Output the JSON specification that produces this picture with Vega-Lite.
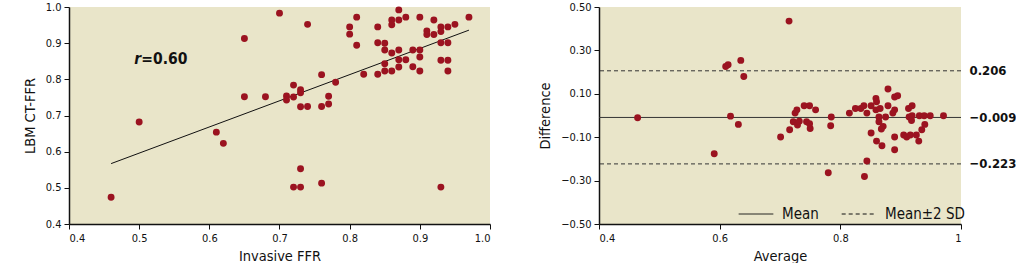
{
  "$schema": "https://vega.github.io/schema/vega-lite/v6.json",
  "padding": {"left": 22, "top": 1, "right": 0, "bottom": 0},
  "spacing": 46,
  "background": "white",
  "config": {
    "view": {"stroke": null, "fill": "#E9E5C9"},
    "font": "Liberation Sans Narrow, DejaVu Sans Condensed, Roboto Condensed, sans-serif",
    "axis": {
      "grid": false,
      "labelOverlap": false,
      "domainColor": "#111",
      "domainWidth": 1.5,
      "tickColor": "#111",
      "tickSize": 5,
      "labelColor": "#111",
      "labelFont": "Liberation Sans Narrow, DejaVu Sans Condensed, sans-serif",
      "labelFontSize": 11,
      "labelPadding": 3,
      "titleFont": "Liberation Sans Narrow, DejaVu Sans Condensed, sans-serif",
      "titleFontSize": 14.5,
      "titleFontWeight": "normal",
      "titleColor": "#111"
    }
  },
  "datasets": {
    "corr": [
      {"ffr": 0.46, "ct": 0.474}, {"ffr": 0.50, "ct": 0.682}, {"ffr": 0.61, "ct": 0.654}, {"ffr": 0.62, "ct": 0.623},
      {"ffr": 0.65, "ct": 0.913}, {"ffr": 0.65, "ct": 0.752}, {"ffr": 0.68, "ct": 0.752}, {"ffr": 0.70, "ct": 0.983},
      {"ffr": 0.71, "ct": 0.754}, {"ffr": 0.71, "ct": 0.743}, {"ffr": 0.72, "ct": 0.784}, {"ffr": 0.72, "ct": 0.751},
      {"ffr": 0.73, "ct": 0.771}, {"ffr": 0.73, "ct": 0.763}, {"ffr": 0.73, "ct": 0.724}, {"ffr": 0.74, "ct": 0.725},
      {"ffr": 0.74, "ct": 0.952}, {"ffr": 0.72, "ct": 0.502}, {"ffr": 0.73, "ct": 0.502}, {"ffr": 0.73, "ct": 0.553},
      {"ffr": 0.76, "ct": 0.513}, {"ffr": 0.76, "ct": 0.813}, {"ffr": 0.76, "ct": 0.725}, {"ffr": 0.77, "ct": 0.753},
      {"ffr": 0.77, "ct": 0.732}, {"ffr": 0.78, "ct": 0.792}, {"ffr": 0.80, "ct": 0.945}, {"ffr": 0.80, "ct": 0.925},
      {"ffr": 0.81, "ct": 0.972}, {"ffr": 0.81, "ct": 0.894}, {"ffr": 0.82, "ct": 0.814}, {"ffr": 0.84, "ct": 0.945},
      {"ffr": 0.84, "ct": 0.901}, {"ffr": 0.84, "ct": 0.814}, {"ffr": 0.85, "ct": 0.900}, {"ffr": 0.85, "ct": 0.881},
      {"ffr": 0.85, "ct": 0.843}, {"ffr": 0.85, "ct": 0.823}, {"ffr": 0.86, "ct": 0.964}, {"ffr": 0.86, "ct": 0.951},
      {"ffr": 0.86, "ct": 0.873}, {"ffr": 0.86, "ct": 0.823}, {"ffr": 0.87, "ct": 0.992}, {"ffr": 0.87, "ct": 0.964},
      {"ffr": 0.87, "ct": 0.881}, {"ffr": 0.87, "ct": 0.854}, {"ffr": 0.87, "ct": 0.834}, {"ffr": 0.88, "ct": 0.972},
      {"ffr": 0.88, "ct": 0.854}, {"ffr": 0.89, "ct": 0.881}, {"ffr": 0.89, "ct": 0.835}, {"ffr": 0.90, "ct": 0.972},
      {"ffr": 0.90, "ct": 0.881}, {"ffr": 0.90, "ct": 0.862}, {"ffr": 0.90, "ct": 0.823}, {"ffr": 0.91, "ct": 0.934},
      {"ffr": 0.91, "ct": 0.924}, {"ffr": 0.92, "ct": 0.964}, {"ffr": 0.92, "ct": 0.924}, {"ffr": 0.93, "ct": 0.945},
      {"ffr": 0.93, "ct": 0.932}, {"ffr": 0.93, "ct": 0.901}, {"ffr": 0.93, "ct": 0.853}, {"ffr": 0.93, "ct": 0.502},
      {"ffr": 0.94, "ct": 0.945}, {"ffr": 0.94, "ct": 0.901}, {"ffr": 0.94, "ct": 0.853}, {"ffr": 0.94, "ct": 0.823},
      {"ffr": 0.95, "ct": 0.952}, {"ffr": 0.97, "ct": 0.972}
    ],
    "fit": [{"ffr": 0.46, "ct": 0.567}, {"ffr": 0.97, "ct": 0.936}],
    "rlabel": [
      {"ffr": 0.493, "ct": 0.855, "t": "r", "part": "italic"},
      {"ffr": 0.503, "ct": 0.855, "t": "=0.60", "part": "normal"}
    ],
    "ba": [
      {"avg": 0.464, "diff": -0.010}, {"avg": 0.591, "diff": -0.176}, {"avg": 0.610, "diff": 0.226}, {"avg": 0.614, "diff": 0.234},
      {"avg": 0.618, "diff": -0.003}, {"avg": 0.635, "diff": 0.254}, {"avg": 0.631, "diff": -0.041}, {"avg": 0.640, "diff": 0.180},
      {"avg": 0.715, "diff": 0.435}, {"avg": 0.701, "diff": -0.099}, {"avg": 0.716, "diff": -0.066}, {"avg": 0.725, "diff": 0.011},
      {"avg": 0.728, "diff": 0.026}, {"avg": 0.722, "diff": -0.029}, {"avg": 0.729, "diff": -0.044}, {"avg": 0.732, "diff": -0.026},
      {"avg": 0.740, "diff": 0.045}, {"avg": 0.749, "diff": 0.045}, {"avg": 0.759, "diff": 0.026}, {"avg": 0.744, "diff": -0.029},
      {"avg": 0.749, "diff": -0.038}, {"avg": 0.750, "diff": -0.060}, {"avg": 0.785, "diff": -0.007}, {"avg": 0.784, "diff": -0.047},
      {"avg": 0.780, "diff": -0.264}, {"avg": 0.815, "diff": 0.011}, {"avg": 0.825, "diff": 0.032}, {"avg": 0.834, "diff": 0.032},
      {"avg": 0.839, "diff": 0.045}, {"avg": 0.844, "diff": 0.011}, {"avg": 0.851, "diff": 0.045}, {"avg": 0.859, "diff": 0.079},
      {"avg": 0.860, "diff": 0.063}, {"avg": 0.859, "diff": 0.026}, {"avg": 0.866, "diff": 0.032}, {"avg": 0.864, "diff": -0.007},
      {"avg": 0.864, "diff": -0.029}, {"avg": 0.875, "diff": -0.007}, {"avg": 0.871, "diff": -0.050}, {"avg": 0.868, "diff": -0.062},
      {"avg": 0.879, "diff": 0.122}, {"avg": 0.879, "diff": 0.045}, {"avg": 0.890, "diff": 0.085}, {"avg": 0.895, "diff": 0.091},
      {"avg": 0.890, "diff": 0.026}, {"avg": 0.887, "diff": 0.011}, {"avg": 0.851, "diff": -0.081}, {"avg": 0.860, "diff": -0.118},
      {"avg": 0.869, "diff": -0.139}, {"avg": 0.890, "diff": -0.099}, {"avg": 0.890, "diff": -0.158}, {"avg": 0.844, "diff": -0.210},
      {"avg": 0.840, "diff": -0.281}, {"avg": 0.913, "diff": 0.032}, {"avg": 0.919, "diff": 0.045}, {"avg": 0.914, "diff": -0.007},
      {"avg": 0.919, "diff": -0.001}, {"avg": 0.918, "diff": -0.023}, {"avg": 0.905, "diff": -0.090}, {"avg": 0.910, "diff": -0.099},
      {"avg": 0.916, "diff": -0.090}, {"avg": 0.926, "diff": -0.090}, {"avg": 0.930, "diff": -0.118}, {"avg": 0.931, "diff": -0.001},
      {"avg": 0.939, "diff": -0.001}, {"avg": 0.949, "diff": -0.001}, {"avg": 0.940, "diff": -0.041}, {"avg": 0.935, "diff": -0.066},
      {"avg": 0.971, "diff": -0.001}
    ],
    "lines": [
      {"diff": -0.009, "kind": "Mean"},
      {"diff": 0.206, "kind": "Mean±2 SD"},
      {"diff": -0.223, "kind": "Mean±2 SD"}
    ]
  },
  "hconcat": [
    {
      "width": 421,
      "height": 217,
      "layer": [
        {
          "data": {"name": "fit"},
          "mark": {"type": "line", "color": "#111", "strokeWidth": 1},
          "encoding": {
            "x": {"field": "ffr", "type": "quantitative", "scale": {"domain": [0.4, 1.0]},
                  "axis": {"title": "Invasive FFR", "values": [0.4, 0.5, 0.6, 0.7, 0.8, 0.9, 1.0], "tickCount": 20, "format": ".1f", "titlePadding": 6}},
            "y": {"field": "ct", "type": "quantitative", "scale": {"domain": [0.4, 1.0]},
                  "axis": {"title": "LBM CT-FFR", "values": [0.4, 0.5, 0.6, 0.7, 0.8, 0.9, 1.0], "tickCount": 20, "format": ".1f", "titlePadding": 8}}
          }
        },
        {
          "data": {"name": "corr"},
          "mark": {"type": "circle", "size": 48, "opacity": 1, "color": "#9B1320"},
          "encoding": {
            "x": {"field": "ffr", "type": "quantitative"},
            "y": {"field": "ct", "type": "quantitative"}
          }
        },
        {
          "data": {"name": "rlabel"},
          "transform": [{"filter": "datum.part == 'italic'"}],
          "mark": {"type": "text", "align": "left", "baseline": "middle", "fontSize": 15.5, "fontWeight": "bold", "fontStyle": "italic", "color": "#111",
                   "font": "Liberation Sans Narrow, DejaVu Sans Condensed, sans-serif"},
          "encoding": {
            "x": {"field": "ffr", "type": "quantitative"},
            "y": {"field": "ct", "type": "quantitative"},
            "text": {"field": "t"}
          }
        },
        {
          "data": {"name": "rlabel"},
          "transform": [{"filter": "datum.part == 'normal'"}],
          "mark": {"type": "text", "align": "left", "baseline": "middle", "fontSize": 15.5, "fontWeight": "bold", "color": "#111",
                   "font": "Liberation Sans Narrow, DejaVu Sans Condensed, sans-serif"},
          "encoding": {
            "x": {"field": "ffr", "type": "quantitative"},
            "y": {"field": "ct", "type": "quantitative"},
            "text": {"field": "t"}
          }
        }
      ]
    },
    {
      "width": 362,
      "height": 217,
      "layer": [
        {
          "data": {"name": "lines"},
          "mark": {"type": "rule", "color": "#333", "strokeWidth": 1},
          "encoding": {
            "y": {"field": "diff", "type": "quantitative", "scale": {"domain": [-0.5, 0.5]},
                  "axis": {"orient": "right", "title": null, "values": [0.206, -0.009, -0.223], "tickCount": 20, "format": ".3f",
                           "domain": false, "ticks": false, "labelPadding": 8, "labelFontSize": 13, "labelFontWeight": "bold"}},
            "strokeDash": {"field": "kind", "type": "nominal",
                           "scale": {"domain": ["Mean", "Mean±2 SD"], "range": [[1, 0], [4, 3]]},
                           "legend": {"title": null, "orient": "none", "legendX": 669, "legendY": 189, "direction": "horizontal",
                                      "symbolType": "stroke", "symbolSize": 1200, "symbolStrokeColor": "#111", "symbolStrokeWidth": 1,
                                      "labelFontSize": 15, "labelFont": "Liberation Sans Narrow, DejaVu Sans Condensed, sans-serif",
                                      "labelColor": "#111", "labelOffset": 8, "columnPadding": 20}}
          }
        },
        {
          "data": {"name": "ba"},
          "mark": {"type": "circle", "size": 48, "opacity": 1, "color": "#9B1320"},
          "encoding": {
            "x": {"field": "avg", "type": "quantitative", "scale": {"domain": [0.4, 1.0]},
                  "axis": {"title": "Average", "values": [0.4, 0.6, 0.8, 1.0], "tickCount": 20, "format": "~g", "titlePadding": 6}},
            "y": {"field": "diff", "type": "quantitative",
                  "axis": {"orient": "left", "title": "Difference", "values": [-0.5, -0.3, -0.1, 0.1, 0.3, 0.5], "tickCount": 20, "format": ".2f", "titlePadding": 8}}
          }
        }
      ],
      "resolve": {"axis": {"y": "independent"}}
    }
  ]
}
